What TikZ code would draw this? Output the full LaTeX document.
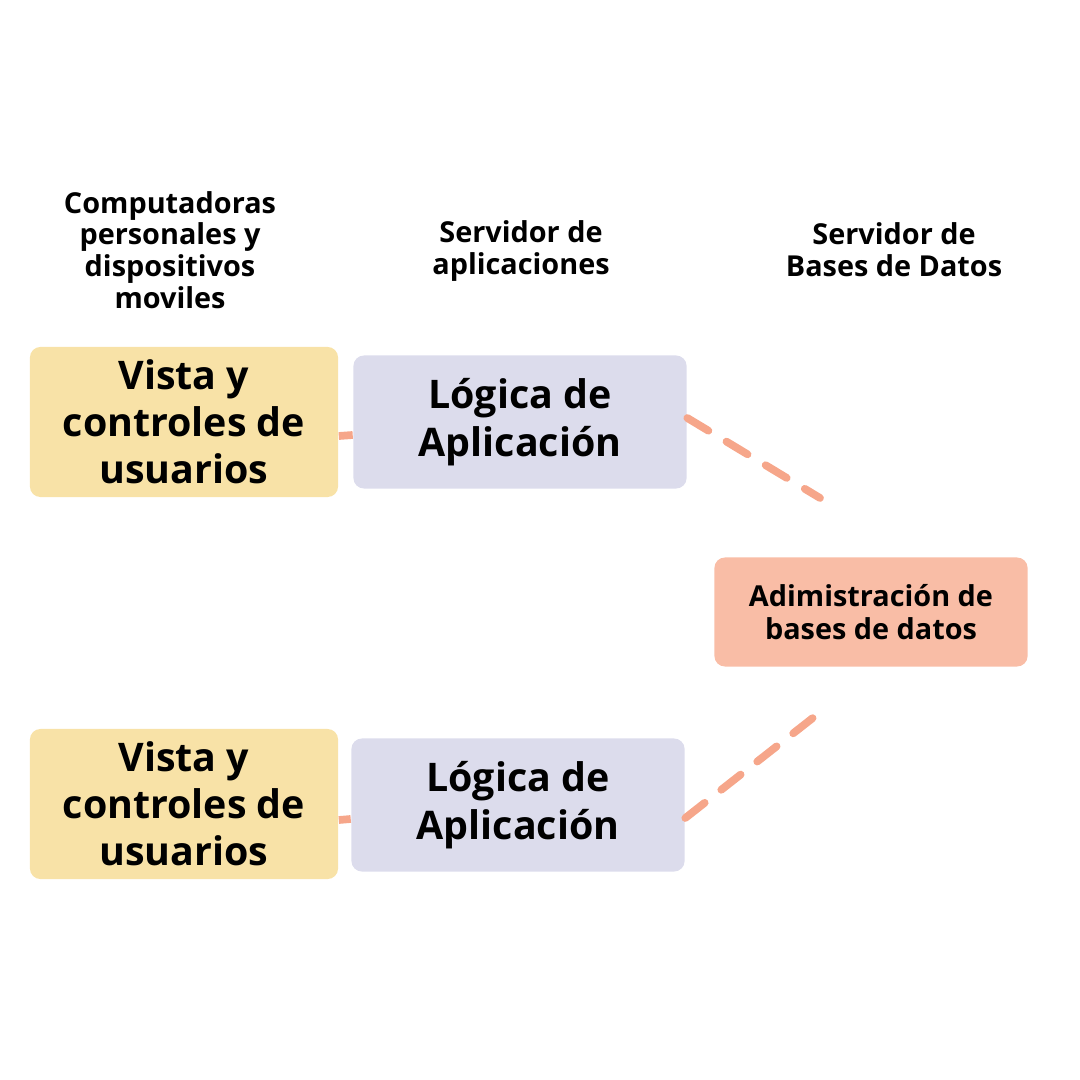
\documentclass[tikz,border=0pt]{standalone}
\usepackage{fontspec}
\setmainfont{Open Sans}[BoldFont={* Bold}]
\usepackage{xcolor}

\definecolor{vistacol}{HTML}{F8E2A7}
\definecolor{logicacol}{HTML}{DCDCEC}
\definecolor{bdcol}{HTML}{F9BDA6}
\definecolor{linkcol}{HTML}{F6A68A}

\tikzset{
	vista/.style	= {fill=vistacol, rounded corners=3pt, minimum width=3.08cm, minimum height=1.5cm, align=center, font=\bfseries\fontsize{11.2}{13.4}\selectfont},
	logica/.style	= {fill=logicacol, rounded corners=3pt, minimum width=3.33cm, minimum height=1.33cm, align=center, font=\bfseries\fontsize{11.2}{13.6}\selectfont},
	bdbox/.style	= {fill=bdcol, rounded corners=3pt, minimum width=3.13cm, minimum height=1.09cm, align=center, font=\bfseries\fontsize{8.2}{9.6}\selectfont},
	heading/.style	= {align=center, font=\bfseries\fontsize{8.2}{9}\selectfont},
	link/.style	= {draw=linkcol, line width=2.2pt},
	dashlink/.style	= {link, line cap=round, dash pattern=on 7pt off 6pt}
}

\begin{document}
\begin{tikzpicture}[x=0.01cm, y=-0.01cm, inner sep=0pt]
		%\draw[help lines] (0,0) grid[step=100] (1080,1080);
		\useasboundingbox (0,0) rectangle (1080,1080);

		% column headings
		\node[heading] (hpc) at (170,250) {Computadoras\\personales y\\dispositivos\\moviles};
		\node[heading] (happ) at (521,251) {Servidor de\\aplicaciones};
		\node[heading] (hbd) at (894,250) {Servidor de\\Bases de Datos};

		% boxes
		\node[vista] (vista1) at (184,422) {Vista y\\controles de\\usuarios};
		\node[logica] (logica1) at (520,422) {Lógica de\\Aplicación};

		\node[vista] (vista2) at (184,804) {Vista y\\controles de\\usuarios};
		\node[logica] (logica2) at (518,805) {Lógica de\\Aplicación};

		\node[bdbox] (bd) at (871,612) {Adimistración de\\bases de datos};

		% free ends of the dashed links
		\coordinate (bdup) at (820,498);
		\coordinate (bddown) at (814,717);

		\draw[link] (vista1.east |- 0,436) -- (logica1.west |- 0,435);
		\draw[link] (vista2.east |- 0,820) -- (logica2.west |- 0,819);

		\draw[dashlink] (logica1.east |- 0,418) -- (bdup);
		\draw[dashlink] (logica2.east |- 0,818) -- (bddown);
\end{tikzpicture}
\end{document}
